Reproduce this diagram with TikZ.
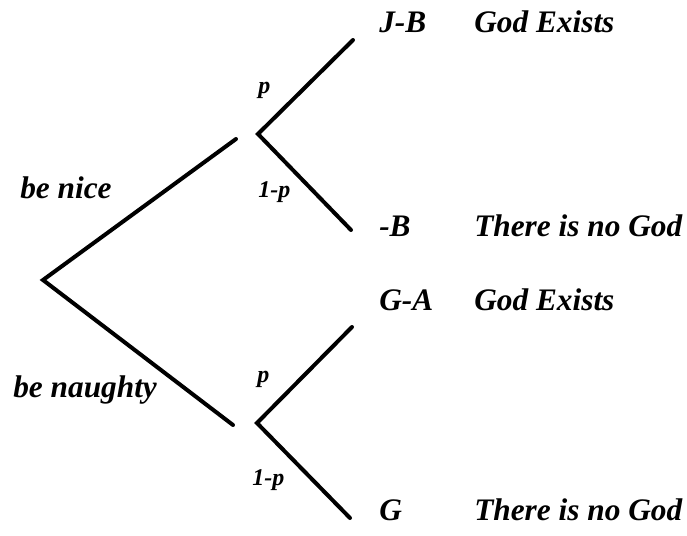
\documentclass[tikz,border=0pt]{standalone}
\usepackage{fontspec}
\setmainfont{Liberation Serif}
\usetikzlibrary{positioning}
\tikzset{
  branch/.style={line width=3pt, line cap=round, line join=miter},
  outlabel/.style={anchor=base west, inner sep=0pt, font=\fontsize{23.5}{26}\selectfont\bfseries\itshape},
  problabel/.style={anchor=base west, inner sep=0pt, font=\fontsize{18}{20}\selectfont\bfseries\itshape}
}

\begin{document}
\begin{tikzpicture}[x=0.75pt,y=-0.75pt]
  \path[use as bounding box] (0,0) rectangle (687,536);

  % decision points
  \coordinate (root) at (43,280);
  \coordinate (niceEnd) at (236,139);
  \coordinate (naughtyEnd) at (233,425);
  \coordinate (nice) at (258,134);
  \coordinate (naughty) at (257,423);
  \coordinate (niceGod) at (353,40);
  \coordinate (niceNoGod) at (351,230);
  \coordinate (naughtyGod) at (352,327);
  \coordinate (naughtyNoGod) at (350,518);

  % branches
  \draw[branch] (niceEnd) -- (root) -- (naughtyEnd);
  \draw[branch] (niceGod) -- (nice) -- (niceNoGod);
  \draw[branch] (naughtyGod) -- (naughty) -- (naughtyNoGod);

  % choices
  \node[outlabel] (benice) at (20,198) {be nice};
  \node[outlabel] (benaughty) at (13,397) {be naughty};

  % probabilities
  \node[problabel] (pNice) at (258,93) {p};
  \node[problabel] (qNice) at (258,197) {1-p};
  \node[problabel] (pNaughty) at (257,382) {p};
  \node[problabel] (qNaughty) at (252,485) {1-p};

  % outcomes
  \foreach \name/\y/\pay/\world in {jb/32/J-B/God Exists, b/236/-B/There is no God,
                                     ga/310/G-A/God Exists, g/520/G/There is no God}{
    \node[outlabel] (pay-\name) at (379,\y) {\pay};
    \node[outlabel] (world-\name) at (474,\y) {\world};
  }
\end{tikzpicture}
\end{document}
